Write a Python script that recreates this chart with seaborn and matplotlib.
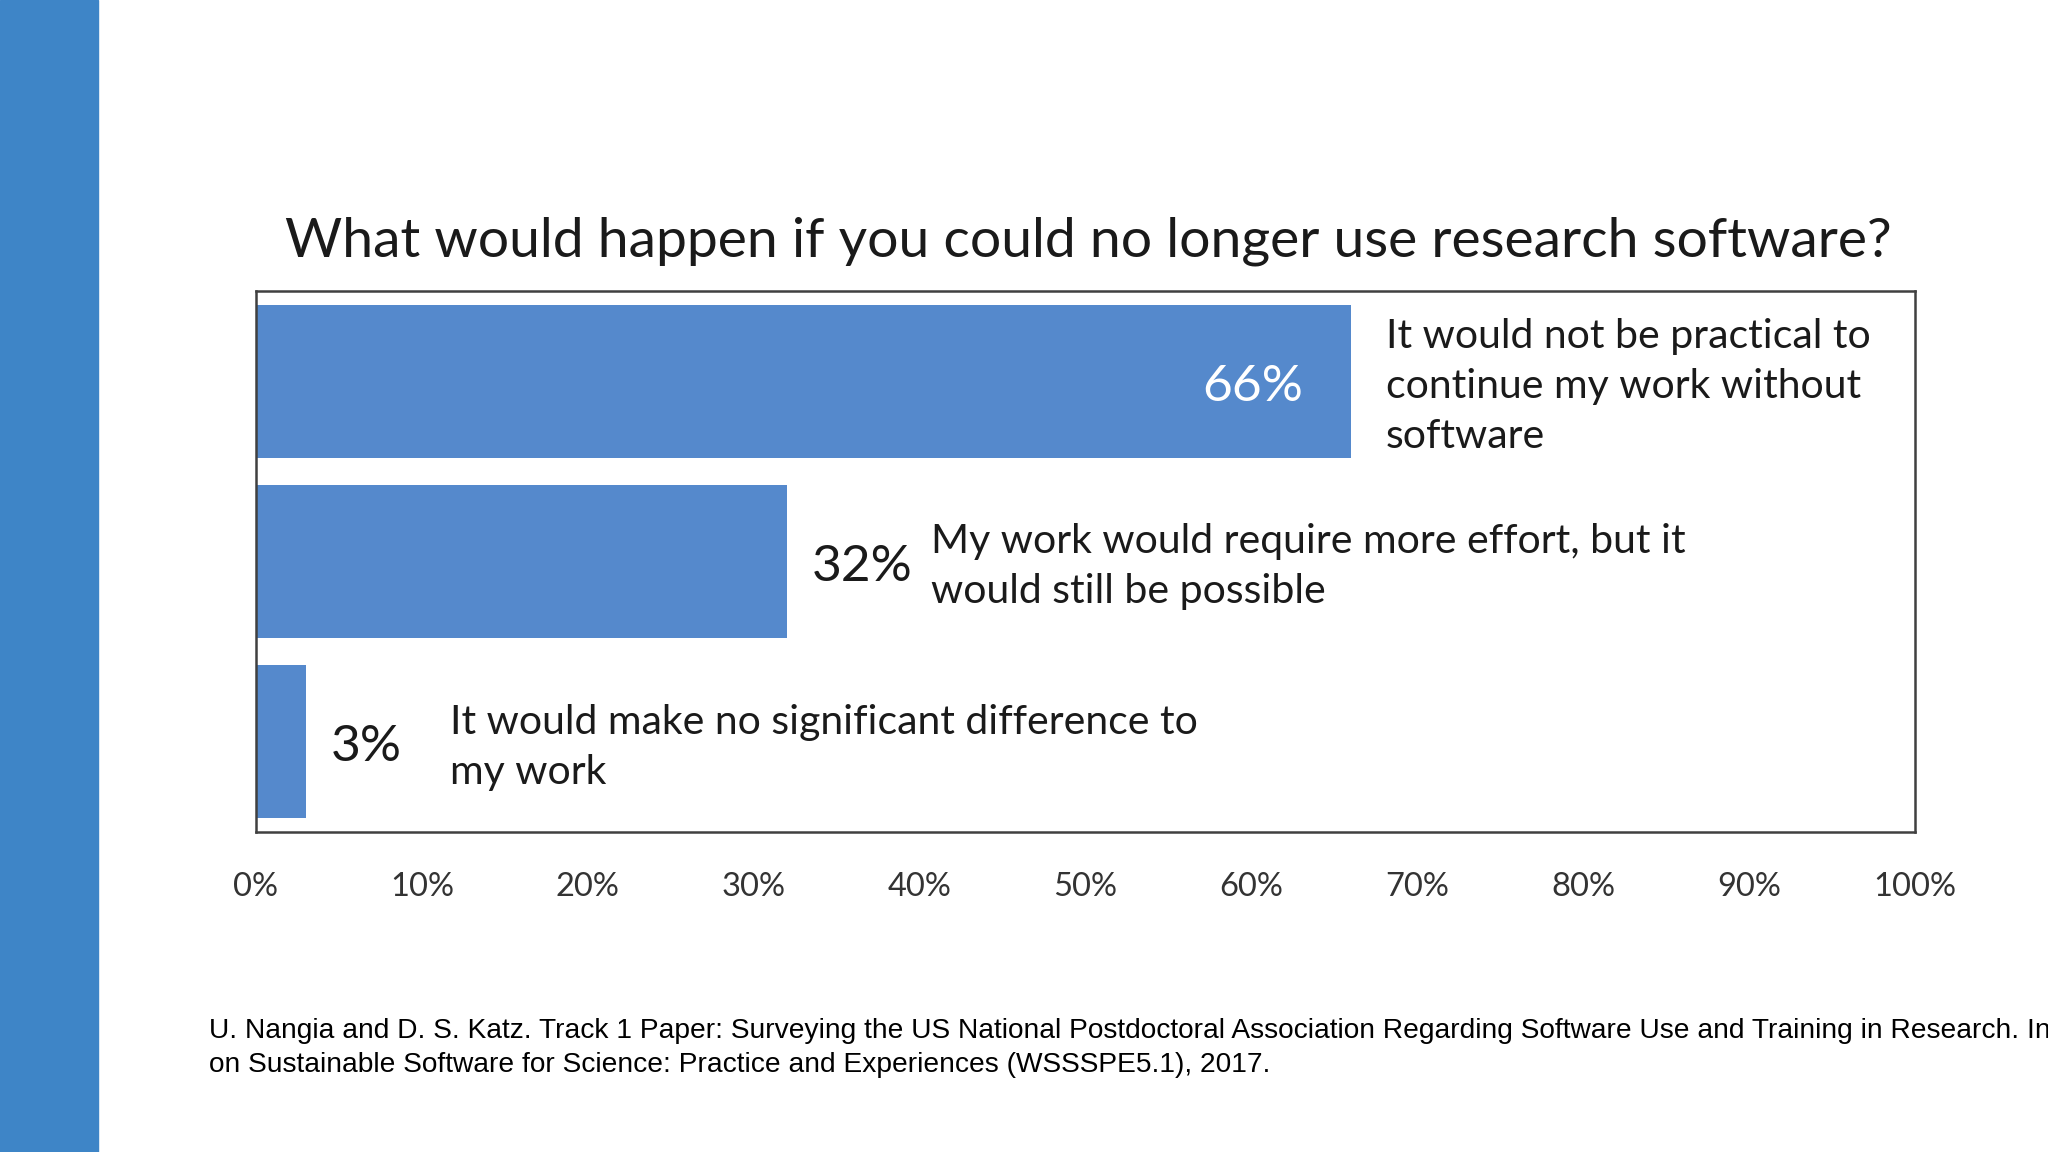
import seaborn as sns
import pandas as pd
import matplotlib.pyplot as plt
from matplotlib.patches import Rectangle
from matplotlib.ticker import FuncFormatter

# Datos
categories = [
    "It would not be practical to\ncontinue my work without\nsoftware",
    "My work would require more effort, but it\nwould still be possible",
    "It would make no significant difference to\nmy work",
]
percent = [66, 32, 3]
ticks = list(range(0, 101, 10))
title = "What would happen if you could no longer use research software?"
footnote = [
    "U. Nangia and D. S. Katz. Track 1 Paper: Surveying the US National Postdoctoral "
    "Association Regarding Software Use and Training in Research. In",
    "on Sustainable Software for Science: Practice and Experiences (WSSSPE5.1), 2017.",
]

sns.set_theme(style="white")
plt.rcParams['font.family'] = ['Lato', 'DejaVu Sans']

bar_blue = "#5589cc"
side_blue = "#3e85c7"
dark = "#333333"
ink = "#1a1a1a"

df = pd.DataFrame({"answer": categories, "percent": percent})

fig = plt.figure(figsize=(20.48, 11.52), dpi=100)
fig.patch.set_facecolor("white")
# franja azul a la izquierda de la diapositiva
fig.patches.append(Rectangle((0, 0), 98 / 2048, 1, transform=fig.transFigure,
                             color=side_blue, zorder=0))

ax = fig.add_axes([0.125, 0.2778, 0.810, 0.4696])
sns.barplot(data=df, x="percent", y="answer", orient="h", color=bar_blue,
            saturation=1, width=0.85, linewidth=0, ax=ax)

ax.set_xlim(0, 100)
ax.set_xticks(ticks)
ax.xaxis.set_major_formatter(FuncFormatter(lambda v, p: f"{v:.0f}%"))
ax.set_xlabel("")
ax.set_ylabel("")
ax.set_yticks([])
ax.tick_params(axis="x", length=0, pad=29, labelsize=23.5, labelcolor=dark)
for s in ax.spines.values():
    s.set_color("#404040")
    s.set_linewidth(1.8)

# etiquetas de porcentaje y texto de cada respuesta (un poco bajo el centro)
for i, (p, label) in enumerate(zip(percent, categories)):
    y = i + 0.03
    if p > 50:
        ax.text(p - 2.9, y, f"{p}%", ha="right", va="center", color="white", fontsize=37)
        ax.text(p + 2.1, y, label, ha="left", va="center", color=ink,
                fontsize=29.5, linespacing=1.44)
    else:
        ax.text(p + 1.5, y, f"{p}%", ha="left", va="center", color=ink, fontsize=37)
        ax.text(p + 8.7, y, label, ha="left", va="center", color=ink,
                fontsize=29.5, linespacing=1.44)

fig.text(1088 / 2048, 1 - 257 / 1152, title, ha="center", va="baseline",
         fontsize=39.8, color=ink)

fig.text(209 / 2048, 1 - 1038 / 1152, footnote[0], ha="left", va="baseline",
         fontsize=20.25, color="black", family=["Liberation Sans", "DejaVu Sans"])
fig.text(209 / 2048, 1 - 1072 / 1152, footnote[1], ha="left", va="baseline",
         fontsize=20.25, color="black", family=["Liberation Sans", "DejaVu Sans"])

fig.savefig("out.png", dpi=100)
